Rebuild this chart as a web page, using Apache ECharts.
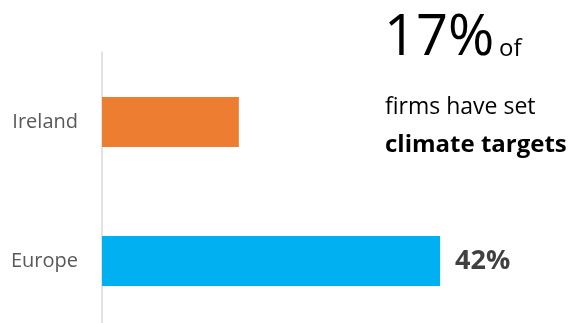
<!DOCTYPE html>
<html><head><meta charset="utf-8">
<script src="https://cdn.jsdelivr.net/npm/echarts@6/dist/echarts.min.js"></script>
<style>html,body{margin:0;padding:0;background:#fff}#c{width:570px;height:323px}</style>
</head><body><div id="c"></div>
<script>
const categories = ['Ireland', 'Europe'];
const values = [17, 42];
const barColors = ['#ED7D31', '#00B0F0'];
const valueLabels = ['', '42%'];

const chart = echarts.init(document.getElementById('c'), null, {renderer: 'canvas'});
chart.setOption({
  animation: false,
  grid: [
    {left: 102, top: 122, right: 65.5, bottom: 62},
    {left: 102, top: 52, right: 65.5, bottom: 0}
  ],
  xAxis: [
    {type: 'value', min: 0, max: 50, show: false, gridIndex: 0},
    {type: 'value', min: 0, max: 50, show: false, gridIndex: 1}
  ],
  yAxis: [
    {
      type: 'category', data: categories, inverse: true, boundaryGap: false, gridIndex: 0,
      axisLine: {show: false},
      axisTick: {show: false},
      axisLabel: {color: '#595959', fontSize: 20, fontFamily: 'Open Sans', margin: 24}
    },
    {
      type: 'value', min: 0, max: 1, gridIndex: 1,
      axisLine: {show: true, lineStyle: {color: '#d9d9d9', width: 1.5}},
      axisTick: {show: false}, axisLabel: {show: false}, splitLine: {show: false}
    }
  ],
  series: [{
    type: 'bar', barWidth: 50, xAxisIndex: 0, yAxisIndex: 0,
    data: values.map((v, i) => ({
      value: v,
      itemStyle: {color: barColors[i]},
      label: {show: !!valueLabels[i], formatter: valueLabels[i], position: 'right', distance: 15,
        color: '#404040', fontSize: 27, fontWeight: 'bold', fontFamily: 'Open Sans'}
    }))
  }],
  graphic: [
    {type: 'text', left: 384, top: 11, style: {text: '17%', font: '56px "Open Sans"', fill: '#000'}},
    {type: 'text', left: 499, top: 37, style: {text: 'of', font: '24px "Open Sans"', fill: '#000'}},
    {type: 'text', left: 385, top: 96, style: {text: 'firms have set', font: '23px "Open Sans"', fill: '#000'}},
    {type: 'text', left: 385, top: 133, style: {text: 'climate targets', font: 'bold 24px "Open Sans"', fill: '#000'}}
  ]
});
</script></body></html>
